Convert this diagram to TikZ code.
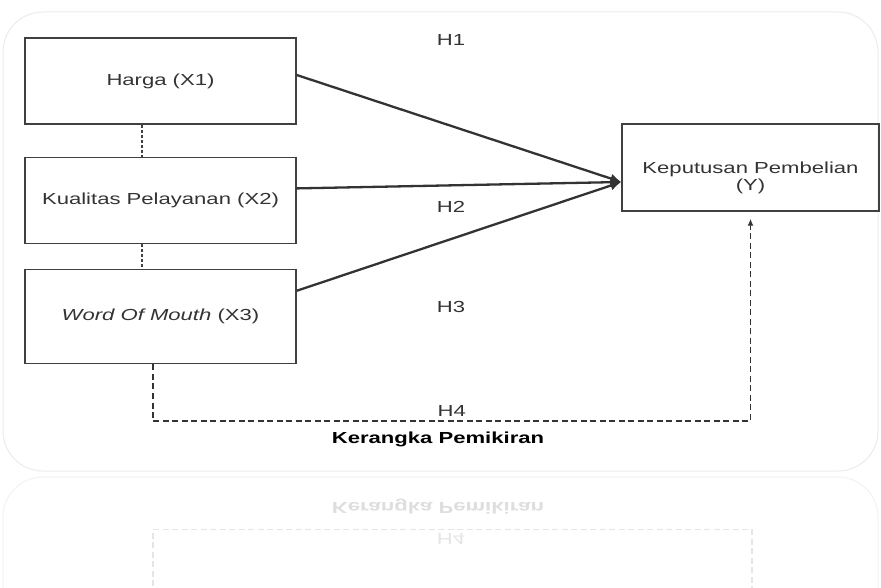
\documentclass[tikz,border=0pt]{standalone}
\usepackage{fontspec}
\setmainfont{Liberation Sans}[FakeStretch=1.38]
\usetikzlibrary{positioning,arrows.meta}

\begin{document}
\begin{tikzpicture}[
  x=1pt, y=1pt,
  node distance=32pt,
  box/.style={draw=black!75, line width=1.4pt, align=center, minimum width=271pt, minimum height=86pt, font=\fontsize{16}{17}\selectfont, text=black!80},
  arr/.style={-{Latex[length=11pt,width=10pt]}, line width=2.3pt, draw=black!80},
  link/.style={black!75, line width=1.2pt, dash pattern=on 3pt off 2pt},
  dasharr/.style={-{Latex[length=7pt,width=6pt]}, line width=1.5pt, black!80, dash pattern=on 6pt off 3.5pt},
  hyp/.style={font=\fontsize{16}{17}\selectfont, text=black!80},
  panel/.style={draw=black!8, line width=1pt, rounded corners=40pt}
]
\useasboundingbox (0,0) rectangle (881,587);
\clip (0,0) rectangle (881,587);

% panel and its reflection
\draw[panel] (3,116) rectangle (878,575);
\draw[panel, draw=black!5] (3,110) rectangle (878,-60);

\node[box] (harga) at (160.5,506) {Harga (X1)};
\node[box, below=of harga] (kualitas) {Kualitas Pelayanan (X2)};
\node[box, below=25pt of kualitas, minimum height=94pt] (wom) {\textit{Word Of Mouth} (X3)};
\node[box, minimum width=257pt, minimum height=87pt] (kp) at (750.5,419.5)
  {\raisebox{-10pt}[\height][\depth]{\shortstack{Keputusan Pembelian\\[-1pt](Y)}}};
\coordinate (kpin) at ([yshift=-14.5pt]kp.west);

\draw[link] ([xshift=-18.5pt]harga.south) -- ([xshift=-18.5pt]kualitas.north);
\draw[link] ([xshift=-18.5pt]kualitas.south) -- ([xshift=-18.5pt]wom.north);

\draw[arr] ([yshift=6pt]harga.east) -- (kpin);
\draw[arr] ([yshift=12pt]kualitas.east) -- (kpin);
\draw[arr] ([yshift=26pt]wom.east) -- (kpin);
\draw[dasharr] ([xshift=-7.5pt]wom.south) -- ++(0,-56.7) -| node[pos=0.25, above=1pt, hyp] (h4) {H4} ([yshift=-7pt]kp.south);

\node[hyp] (h1) at (451,546.5) {H1};
\node[hyp] (h2) at (451,380.5) {H2};
\node[hyp] (h3) at (451,280) {H3};
\node[hyp, font=\fontsize{16}{17}\selectfont\bfseries, text=black] (title) at (438,148) {Kerangka Pemikiran};

% faded mirror image below
\begin{scope}[yshift=228pt, yscale=-1, transform shape, opacity=0.13]
  \node[hyp, font=\fontsize{16}{17}\selectfont\bfseries, text=black] (rtitle) at (438,148) {Kerangka Pemikiran};
  \coordinate (rstart) at (153,227);
  \draw[dasharr, -] (rstart) -- ++(0,-56.7) -| (752,369);
  \node[hyp] (rh4) at (451,180) {H4};
\end{scope}
\end{tikzpicture}
\end{document}
